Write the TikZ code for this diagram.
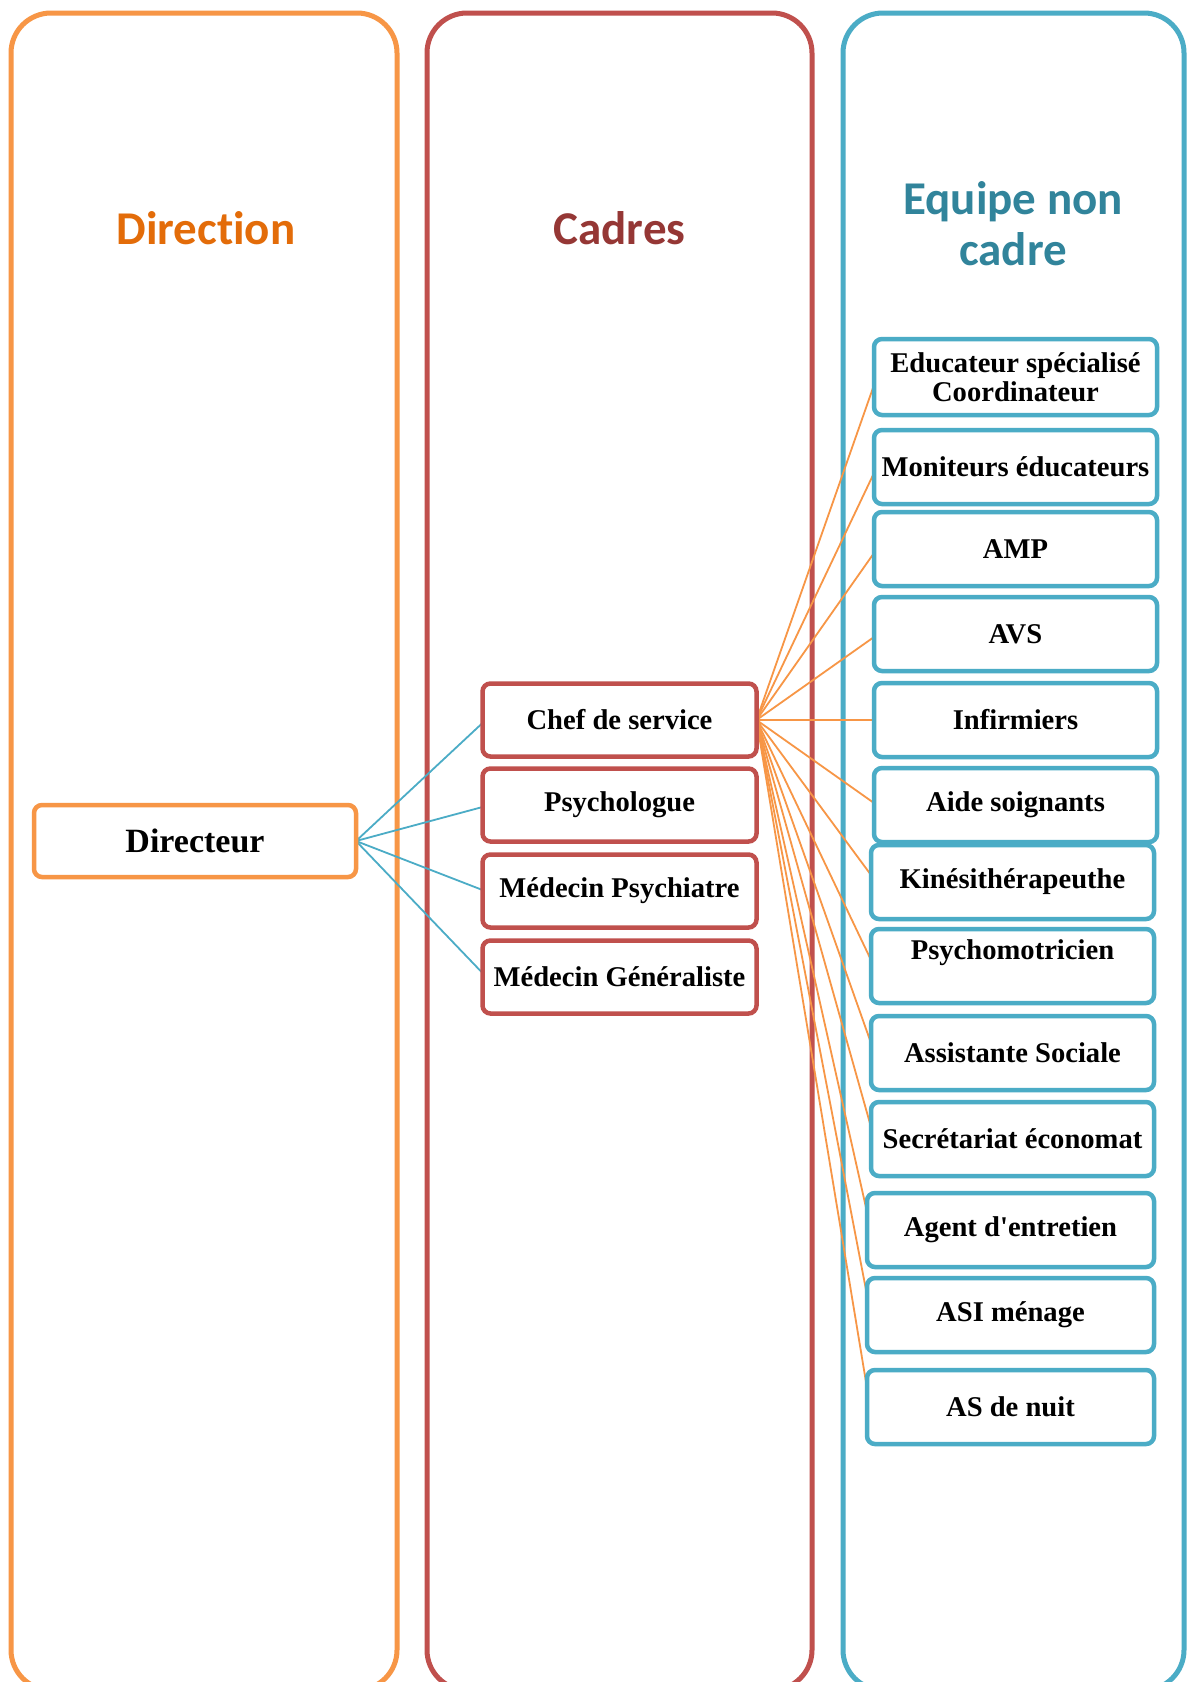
\documentclass[tikz,border=0pt]{standalone}
\usepackage{fontspec}
\setmainfont{Liberation Serif}
\newfontfamily\hdr[RawFeature=-liga]{Carlito}
\definecolor{orgP}{HTML}{F79646}
\definecolor{redP}{HTML}{C0504D}
\definecolor{bluP}{HTML}{4BACC6}
\definecolor{orgT}{HTML}{E36C09}
\definecolor{redT}{HTML}{953735}
\definecolor{bluT}{HTML}{31849B}
\pgfdeclarelayer{background}
\pgfsetlayers{background,main}
\tikzset{
  panel/.style={line width=5pt, rounded corners=40pt},
  hdrtext/.style={font=\hdr\bfseries\fontsize{47}{51}\selectfont, align=center, inner sep=0pt},
  boxbase/.style={rectangle, rounded corners=8pt, line width=4.5pt, fill=white, inner sep=0pt, outer sep=0pt,
    font=\bfseries\fontsize{28.6}{29}\selectfont, align=center},
  dirbox/.style={boxbase, draw=orgP, line width=4.5pt, minimum width=322pt, minimum height=72pt, font=\bfseries\fontsize{34}{36}\selectfont},
  cadbox/.style={boxbase, draw=redP, minimum width=274pt, minimum height=73pt},
  eqbox/.style={boxbase, draw=bluP, minimum height=74pt},
  bluelink/.style={draw=bluP, line width=1.8pt},
  orglink/.style={draw=orgP, line width=1.8pt}
}
\begin{document}
\begin{tikzpicture}[x=1pt,y=-1pt]
\useasboundingbox (0,0) rectangle (1187,1682);
\clip (0,0) rectangle (1187,1682);
% headers
\node[hdrtext, text=orgT, anchor=base] (hdir) at (206,244) {Direction};
\node[hdrtext, text=redT, anchor=base] (hcad) at (619.5,244) {Cadres};
\node[hdrtext, text=bluT] (hequ) at (1013,224) {Equipe non\\cadre};
% boxes
\node[dirbox] (dir) at (195,841) {Directeur};
\node[cadbox] (chef) at (619.5,720) {Chef de service};
\node[cadbox] (psy) at (619.5,805) {Psychologue};
\node[cadbox] (psyc) at (619.5,891) {Médecin Psychiatre};
\node[cadbox] (gen) at (619.5,977) {Médecin Généraliste};
\begin{scope}[every node/.append style={minimum width=283pt}]
\node[eqbox, minimum height=76pt] (educ) at (1015.5,377) {Educateur spécialisé\\Coordinateur};
\node[eqbox] (mon) at (1015.5,467) {Moniteurs éducateurs};
\node[eqbox] (amp) at (1015.5,549) {AMP};
\node[eqbox] (avs) at (1015.5,634) {AVS};
\node[eqbox] (inf) at (1015.5,720) {Infirmiers};
\node[eqbox] (aide) at (1015.5,805) {Aide soignants};
\node[eqbox] (kine) at (1012.5,882) {Kinésithérapeuthe};
\node[eqbox] (psym) at (1012.5,966) {\raisebox{13pt}[\height][\depth]{Psychomotricien}};
\node[eqbox] (ass) at (1012.5,1053) {Assistante Sociale};
\node[eqbox] (sec) at (1012.5,1139) {Secrétariat économat};
\end{scope}
\begin{scope}[every node/.append style={minimum width=287pt}]
\node[eqbox] (agent) at (1010.5,1230) {Agent d\textquotesingle entretien};
\node[eqbox] (asi) at (1010.5,1315) {ASI ménage};
\node[eqbox] (asn) at (1010.5,1407) {AS de nuit};
\end{scope}
\begin{pgfonlayer}{background}
\fill[white] (0,0) rectangle (1187,1682);
% panels
\draw[panel, draw=orgP] (11,13) rectangle (397,1690);
\draw[panel, draw=redP] (427,13) rectangle (812,1690);
\draw[panel, draw=bluP] (843,13) rectangle (1184,1690);
% director links
\draw[bluelink] (dir.east) -- ([yshift=-3pt]chef.west);
\draw[bluelink] (dir.east) -- ([yshift=-2pt]psy.west);
\draw[bluelink] (dir.east) -- ([yshift=1pt]psyc.west);
\draw[bluelink] (dir.east) -- ([yshift=4pt]gen.west);
% chef de service links
\draw[orglink] (chef.east) -- ([yshift=-8pt]educ.west);
\draw[orglink] (chef.east) -- ([yshift=-6pt]mon.west);
\draw[orglink] (chef.east) -- ([yshift=-4pt]amp.west);
\draw[orglink] (chef.east) -- ([yshift=-3pt]avs.west);
\draw[orglink] (chef.east) -- (inf.west);
\draw[orglink] (chef.east) -- ([yshift=2pt]aide.west);
\draw[orglink] (chef.east) -- ([yshift=7pt]kine.west);
\draw[orglink] (chef.east) -- ([yshift=6pt]psym.west);
\draw[orglink] (chef.east) -- ([yshift=10pt]ass.west);
\draw[orglink] (chef.east) -- ([yshift=12pt]sec.west);
\draw[orglink] (chef.east) -- ([yshift=18pt]agent.west);
\draw[orglink] (chef.east) -- ([yshift=20pt]asi.west);
\draw[orglink] (chef.east) -- ([yshift=19pt]asn.west);
\end{pgfonlayer}
\end{tikzpicture}
\end{document}
